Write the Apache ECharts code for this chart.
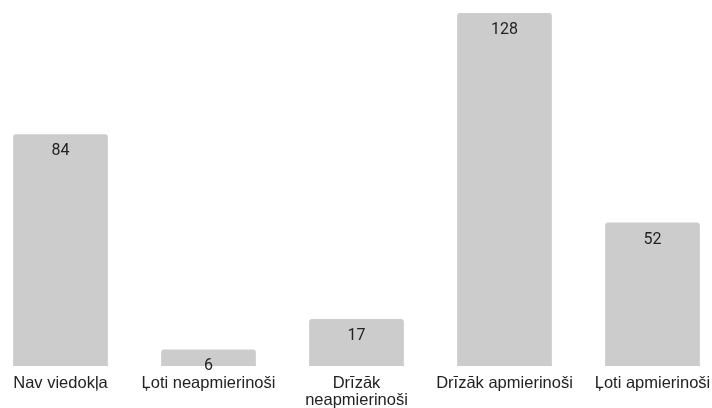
<!DOCTYPE html>
<html>
<head>
<meta charset="utf-8">
<script src="https://cdn.jsdelivr.net/npm/echarts@6/dist/echarts.min.js"></script>
<style>
  html, body { margin: 0; padding: 0; background: #fff; }
  #chart { width: 712px; height: 408px; }
</style>
</head>
<body>
<div id="chart"></div>
<script>
// kategorijas un vērtības
var categories = ['Nav viedokļa', 'Ļoti neapmierinoši', 'Drīzāk\nneapmierinoši', 'Drīzāk apmierinoši', 'Ļoti apmierinoši'];
var values = [84, 6, 17, 128, 52];

var chart = echarts.init(document.getElementById('chart'));

var option = {
  animation: false,
  grid: {
    left: -13.5,
    width: 740,
    top: 13,
    bottom: 42,
    containLabel: false,
    outerBoundsMode: 'none'
  },
  xAxis: {
    type: 'category',
    data: categories,
    axisLine: { show: false },
    axisTick: { show: false },
    axisLabel: {
      interval: 0,
      margin: 9,
      fontFamily: 'Liberation Sans, Arial, sans-serif',
      fontSize: 16.5,
      lineHeight: 17,
      color: '#222'
    }
  },
  yAxis: {
    type: 'value',
    min: 0,
    max: 128,
    show: false,
    splitLine: { show: false }
  },
  series: [{
    type: 'bar',
    data: values,
    barCategoryGap: '36%',
    itemStyle: {
      color: '#cccccc',
      borderRadius: [3, 3, 0, 0]
    },
    label: {
      show: true,
      position: 'insideTop',
      distance: 9,
      fontFamily: 'Roboto, sans-serif',
      fontSize: 16,
      color: '#222',
      textBorderColor: '#fff',
      textBorderWidth: 0
    }
  }]
};

chart.setOption(option);
window.onresize = chart.resize;
</script>
</body>
</html>
